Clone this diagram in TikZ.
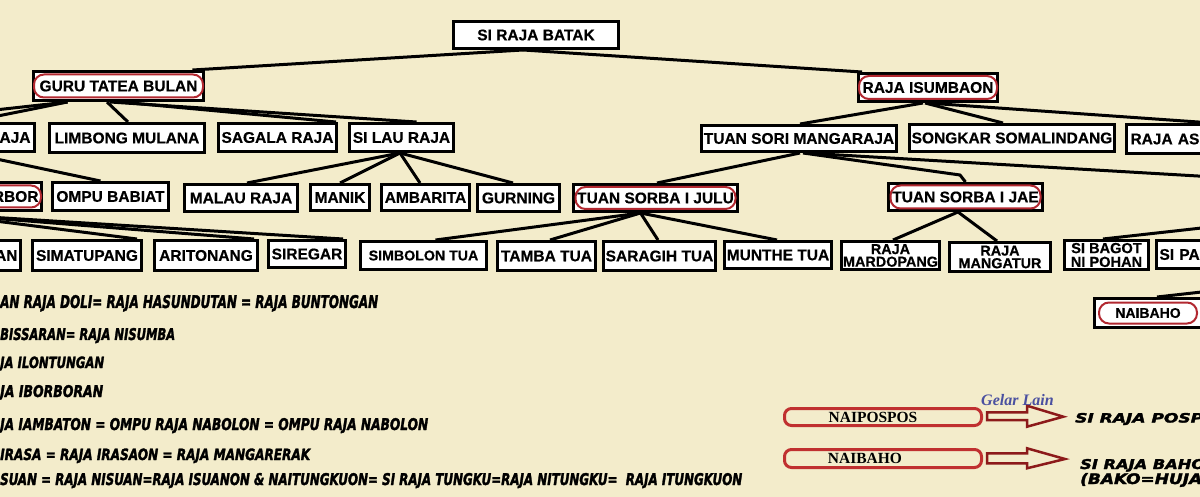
\documentclass[tikz,border=0pt]{standalone}
\usepackage{graphicx}
\usepackage{fontspec}
\setmainfont{Liberation Sans}[BoldFeatures={FakeBold=0.5}]
\newfontfamily\serifb{Liberation Serif}
\newfontfamily\styfont{DejaVu Sans}[BoldItalicFeatures={FakeBold=2.2}]
\definecolor{bgc}{RGB}{243,236,203}
\definecolor{ringred}{RGB}{178,40,48}
\definecolor{boxred}{RGB}{192,48,48}
\definecolor{arrred}{RGB}{140,26,26}
\definecolor{gelarc}{RGB}{74,80,160}
\newcommand{\stytext}[3]{\resizebox{#1pt}{#2pt}{\styfont\bfseries\itshape #3}}
\pgfdeclarelayer{bglayer}
\pgfdeclarelayer{edges}
\pgfsetlayers{bglayer,edges,main}
\begin{document}
\begin{tikzpicture}[x=1pt,y=-1pt,
  bx/.style={draw=black, line width=3pt, fill=white, inner sep=0pt,
    font=\fontsize{15.5pt}{17pt}\selectfont\bfseries},
  bxtwo/.style={bx, align=center, font=\fontsize{14.4pt}{12.6pt}\selectfont\bfseries},
  ringnode/.style={draw=ringred, line width=2pt, rounded corners=10pt, inner sep=0pt},
  rbox/.style={draw=boxred, line width=3pt, rounded corners=7pt, inner sep=0pt,
    font=\serifb\bfseries\fontsize{15.5pt}{17pt}\selectfont},
  arrowout/.style={draw=arrred, line width=2.5pt, line join=miter},
  edge/.style={draw=black, line width=3pt},
  txt/.style={anchor=base west, inner sep=0pt}]
\useasboundingbox (0,0) rectangle (1200,497);
\begin{pgfonlayer}{bglayer}
\fill[bgc] (0,0) rectangle (1200,497);
\end{pgfonlayer}

\begin{scope}
\clip (0,0) rectangle (1200,497);
% row 0 / 1
\node[bx, minimum width=165pt, minimum height=27pt] (batak) at (536,35) {SI RAJA BATAK};
\node[bx, minimum width=170pt, minimum height=29pt] (guru) at (118.5,86) {GURU TATEA BULAN};
\node[bx, minimum width=139pt, minimum height=28pt] (isumbaon) at (928,87.5) {RAJA ISUMBAON};
% row 2
\node[bx, minimum width=133pt, minimum height=28pt, text width=125pt, align=right] (saribu) at (-32,137.5) {RAJA};
\node[bx, minimum width=155pt, minimum height=29pt] (limbong) at (127,138) {LIMBONG MULANA};
\node[bx, minimum width=118pt, minimum height=28pt] (sagala) at (277.5,137.5) {SAGALA RAJA};
\node[bx, minimum width=104pt, minimum height=28pt] (silau) at (401.5,137.5) {SI LAU RAJA};
\node[bx, minimum width=195pt, minimum height=26pt] (tsm) at (799,138.5) {TUAN SORI MANGARAJA};
\node[bx, minimum width=205pt, minimum height=27pt] (songkar) at (1012,138) {SONGKAR SOMALINDANG};
\node[bx, minimum width=172pt, minimum height=29pt, text width=164pt, align=left] (rajaas) at (1212.5,139) {RAJA AS};
% row 3
\node[bx, minimum width=140pt, minimum height=28pt, text width=134pt, align=right] (borbor) at (-28.5,196.5) {RBOR};
\node[bx, minimum width=116pt, minimum height=28pt] (ompu) at (110.5,196.5) {OMPU BABIAT};
\node[bx, minimum width=113pt, minimum height=27pt] (malau) at (241,198) {MALAU RAJA};
\node[bx, minimum width=59pt, minimum height=26pt] (manik) at (340,197.5) {MANIK};
\node[bx, minimum width=88pt, minimum height=26pt] (ambarita) at (425.5,197.5) {AMBARITA};
\node[bx, minimum width=82pt, minimum height=27pt] (gurning) at (518.5,198) {GURNING};
\node[bx, minimum width=164pt, minimum height=27pt] (tsjulu) at (655.5,198) {TUAN SORBA I JULU};
\node[bx, minimum width=154pt, minimum height=27pt] (tsjae) at (965.5,197) {TUAN SORBA I JAE};
% row 4
\node[bx, minimum width=119pt, minimum height=30pt, text width=113pt, align=right] (nainggolan) at (-39,255.5) {AN};
\node[bx, minimum width=109pt, minimum height=30pt] (simatupang) at (87,255.5) {SIMATUPANG};
\node[bx, minimum width=103pt, minimum height=30pt] (aritonang) at (206,255.5) {ARITONANG};
\node[bx, minimum width=77pt, minimum height=27pt] (siregar) at (307,254) {SIREGAR};
\node[bx, minimum width=126pt, minimum height=28pt, font=\fontsize{14.2pt}{16pt}\selectfont\bfseries] (simbolon) at (423.5,255.5) {SIMBOLON TUA};
\node[bx, minimum width=98pt, minimum height=29pt] (tamba) at (546.5,256) {TAMBA TUA};
\node[bx, minimum width=112pt, minimum height=29pt] (saragih) at (659.5,256) {SARAGIH TUA};
\node[bx, minimum width=107pt, minimum height=27pt] (munthe) at (778,255) {MUNTHE TUA};
\node[bxtwo, minimum width=98pt, minimum height=28pt] (mardopang) at (890.5,255.5) {RAJA\\MARDOPANG};
\node[bxtwo, minimum width=101pt, minimum height=29pt] (mangatur) at (1000,257) {RAJA\\MANGATUR};
\node[bxtwo, minimum width=84pt, minimum height=29pt, font=\fontsize{14.6pt}{13.8pt}\selectfont\bfseries] (sibagot) at (1106.5,255) {SI BAGOT\\NI POHAN};
\node[bx, minimum width=142pt, minimum height=28pt, text width=136pt, align=left] (sipae) at (1227.5,254.5) {SI PAE};
\node[bx, minimum width=107pt, minimum height=29pt, font=\fontsize{14pt}{16pt}\selectfont\bfseries] (naibahotop) at (1148,313) {NAIBAHO};
% red rings
\node[ringnode, minimum width=169pt, minimum height=23pt] (guru-ring) at (guru.center) {};
\node[ringnode, minimum width=138pt, minimum height=23pt] (isumbaon-ring) at (isumbaon.center) {};
\node[ringnode, minimum width=160pt, minimum height=22pt] (tsjulu-ring) at (tsjulu.center) {};
\node[ringnode, minimum width=150pt, minimum height=23pt] (tsjae-ring) at (tsjae.center) {};
\node[ringnode, minimum width=139pt, minimum height=22pt] (borbor-ring) at (borbor.center) {};
\node[ringnode, minimum width=98pt, minimum height=21pt] (naibahotop-ring) at (naibahotop.center) {};

% bottom left texts
\node[txt] (t1) at (0,308) {\stytext{378}{13}{AN RAJA DOLI= RAJA HASUNDUTAN = RAJA BUNTONGAN}};
\node[txt] (t2) at (0,340) {\stytext{175}{12}{BISSARAN= RAJA NISUMBA}};
\node[txt] (t3) at (0,368) {\stytext{104}{11.5}{JA ILONTUNGAN}};
\node[txt] (t4) at (0,397) {\stytext{103}{12}{JA IBORBORAN}};
\node[txt] (t5) at (0,430) {\stytext{428}{12}{JA IAMBATON = OMPU RAJA NABOLON = OMPU RAJA NABOLON}};
\node[txt] (t6) at (0,460) {\stytext{310}{11.5}{IRASA = RAJA IRASAON = RAJA MANGARERAK}};
\node[txt] (t7) at (0,485) {\stytext{742}{12}{SUAN = RAJA NISUAN=RAJA ISUANON \& NAITUNGKUON= SI RAJA TUNGKU=RAJA NITUNGKU=\ \ RAJA ITUNGKUON}};

% bottom right legend
\node[rbox, minimum width=197pt, minimum height=17pt] (naipospos) at (883,417) {NAIPOSPOS\hspace*{20pt}};
\node[rbox, minimum width=197pt, minimum height=18pt] (naibaho) at (883,458.5) {NAIBAHO\hspace*{36pt}};
\draw[arrowout] (987,412.3) -- (1027,412.3) -- (1027,405.7) -- (1063.3,416.7) -- (1027,426.7) -- (1027,420) -- (987,420) -- cycle;
\draw[arrowout] (987,453.3) -- (1027,453.3) -- (1027,448.3) -- (1065,459) -- (1027,468.3) -- (1027,463.3) -- (987,463.3) -- cycle;
\node[txt, text=gelarc, font=\serifb\bfseries\itshape\fontsize{16pt}{18pt}\selectfont] (gelar) at (981,405.5) {Gelar Lain};
\node[txt] (pospos) at (1075,422.5) {\stytext{128}{9.5}{SI RAJA POSP}};
\node[txt] (bahotxt) at (1080,469) {\stytext{125}{10}{SI RAJA BAHO}};
\node[txt] (bakotxt) at (1080,484) {\stytext{122}{11}{(BAKO=HUJA}};
\end{scope}

\begin{pgfonlayer}{edges}
\begin{scope}
\clip (0,0) rectangle (1200,497);
\coordinate (biak) at (-150,126);
\coordinate (lontung) at (-60,214);
\coordinate (bend1) at (960,175);
\coordinate (banua) at (1215,177);
\coordinate (banuab) at (1215,226.5);
\coordinate (naiparent) at (1215,290.5);
\draw[edge] ([xshift=-13pt]batak.south) -- ([xshift=74pt]guru.north);
\draw[edge] ([xshift=-13pt]batak.south) -- ([xshift=5pt]isumbaon.north west);
\draw[edge] ([xshift=-51pt]guru.south) -- (biak);
\draw[edge] ([xshift=-51pt]guru.south) -- (saribu.north);
\draw[edge] ([xshift=-11.5pt]guru.south) -- ([xshift=1pt]limbong.north);
\draw[edge] ([xshift=1.5pt]guru.south) -- ([xshift=-2pt]sagala.north east);
\draw[edge] ([xshift=-8.5pt]guru.south) -- ([xshift=15pt]silau.north);
\draw[edge] (saribu.south) -- ([xshift=-10pt]ompu.north);
\draw[edge] ([xshift=-1.5pt]silau.south) -- ([xshift=6pt]malau.north);
\draw[edge] ([xshift=-1.5pt]silau.south) -- (manik.north);
\draw[edge] ([xshift=-1.5pt]silau.south) -- ([xshift=-5.5pt]ambarita.north);
\draw[edge] ([xshift=-1.5pt]silau.south) -- ([xshift=-5.5pt]gurning.north);
\draw[edge] (lontung) -- ([xshift=50pt]simatupang.north);
\draw[edge] (lontung) -- ([xshift=48pt]aritonang.north);
\draw[edge] (lontung) -- ([xshift=36pt]siregar.north);
\draw[edge] ([xshift=-15pt]tsjulu.south) -- ([xshift=12pt]simbolon.north);
\draw[edge] ([xshift=-15pt]tsjulu.south) -- ([xshift=3.5pt]tamba.north);
\draw[edge] ([xshift=-15pt]tsjulu.south) -- ([xshift=-1.5pt]saragih.north);
\draw[edge] ([xshift=-15pt]tsjulu.south) -- ([xshift=-1pt]munthe.north);
\draw[edge] ([xshift=1pt]tsm.south) -- ([xshift=1.5pt]tsjulu.north);
\draw[edge] ([xshift=4pt]tsm.south) -- (bend1) -- (tsjae.north);
\draw[edge] ([xshift=6pt]tsm.south) -- (banua);
\draw[edge] ([xshift=-5pt]isumbaon.south) -- ([xshift=1pt]tsm.north);
\draw[edge] ([xshift=-3pt]isumbaon.south) -- ([xshift=-9pt]songkar.north);
\draw[edge] ([xshift=-1pt]isumbaon.south) -- (rajaas.north);
\draw[edge] ([xshift=-7.5pt]tsjae.south) -- ([xshift=2.5pt]mardopang.north);
\draw[edge] ([xshift=-7.5pt]tsjae.south) -- ([xshift=-3pt]mangatur.north);
\draw[edge] (banuab) -- ([xshift=-3.5pt]sibagot.north);
\draw[edge] (naiparent) -- ([xshift=9pt]naibahotop.north);
\end{scope}
\end{pgfonlayer}
\end{tikzpicture}
\end{document}
